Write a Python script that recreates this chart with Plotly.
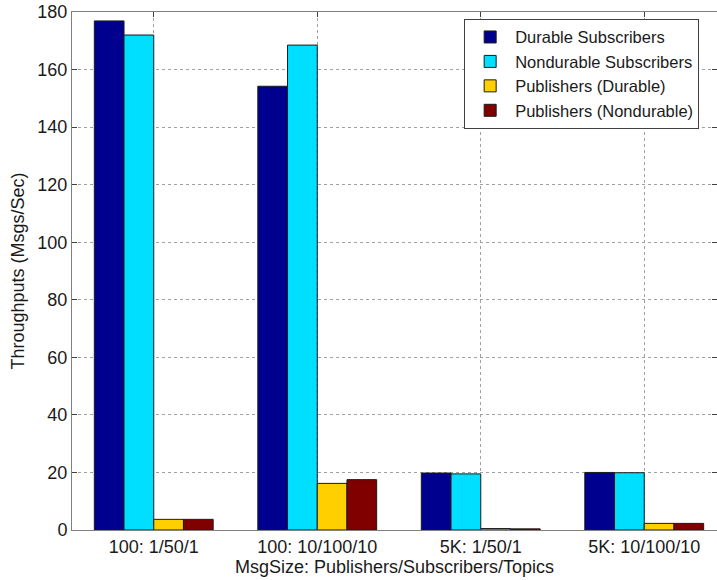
import plotly.graph_objects as go

categories = ["100: 1/50/1", "100: 10/100/10", "5K: 1/50/1", "5K: 10/100/10"]
durable_subs = [176.9, 154.2, 19.8, 20.0]
nondurable_subs = [172.0, 168.5, 19.5, 19.9]
pub_durable = [3.7, 16.2, 0.5, 2.3]
pub_nondurable = [3.7, 17.5, 0.4, 2.3]
series_names = ["Durable Subscribers", "Nondurable Subscribers",
                "Publishers (Durable)", "Publishers (Nondurable)"]
colors = ["#00008F", "#00DFFF", "#FFCF00", "#800000"]
y_ticks = [0, 20, 40, 60, 80, 100, 120, 140, 160, 180]

fig = go.Figure()
for name, vals, col in zip(series_names,
                           [durable_subs, nondurable_subs, pub_durable, pub_nondurable],
                           colors):
    fig.add_trace(go.Bar(x=categories, y=vals, name=name,
                         marker=dict(color=col, line=dict(color="#1a1a1a", width=1))))

font_family = "Liberation Sans, Arial, sans-serif"
fig.update_layout(
    width=717, height=580,
    margin=dict(l=72, r=0, t=12, b=50),
    paper_bgcolor="white", plot_bgcolor="white",
    barmode="group", bargap=0.273, bargroupgap=0,
    font=dict(family=font_family, size=18, color="#1a1a1a"),
    legend=dict(x=0.608, y=0.987, xanchor="left", yanchor="top",
                bgcolor="white", bordercolor="#404040", borderwidth=1,
                font=dict(size=16.5), tracegroupgap=0, itemwidth=40),
    xaxis=dict(
        title=dict(text="MsgSize: Publishers/Subscribers/Topics", standoff=2,
                   font=dict(size=18)),
        range=[-0.5, 3.445],
        showline=True, linecolor="#808080", linewidth=1, mirror="ticks",
        ticks="inside", ticklen=5, tickcolor="#404040",
        showgrid=True, gridcolor="#a0a0a0", griddash="dot", gridwidth=1,
        zeroline=False, tickfont=dict(size=18),
    ),
    yaxis=dict(
        title=dict(text="Throughputs (Msgs/Sec)", standoff=8, font=dict(size=18)),
        range=[0, 180], tickvals=y_ticks,
        showline=True, linecolor="#808080", linewidth=1, mirror="ticks",
        ticks="inside", ticklen=5, tickcolor="#404040",
        showgrid=True, gridcolor="#a0a0a0", griddash="dot", gridwidth=1,
        zeroline=False, tickfont=dict(size=18),
    ),
)

fig.write_html("out.html", config={"displayModeBar": False},
               post_script="document.body.style.margin='0';document.body.style.overflow='hidden';")
